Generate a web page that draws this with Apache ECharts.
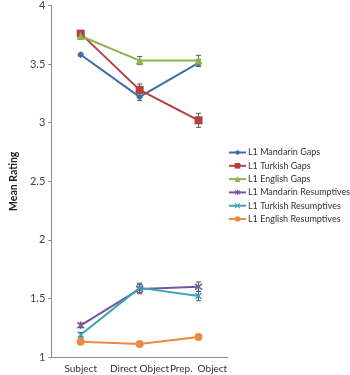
<!DOCTYPE html>
<html><head><meta charset="utf-8">
<script src="https://cdn.jsdelivr.net/npm/echarts@6/dist/echarts.min.js"></script>
<style>html,body{margin:0;padding:0;background:#fff}#c{width:350px;height:375px}</style>
</head><body><div id="c"></div>
<script>
var categories = ['Subject', 'Direct Object', 'Prep.  Object'];
var seriesNames = ['L1 Mandarin Gaps','L1 Turkish Gaps','L1 English Gaps','L1 Mandarin Resumptives','L1 Turkish Resumptives','L1 English Resumptives'];
var mandarinGaps = [3.58, 3.22, 3.51];
var turkishGaps = [3.76, 3.28, 3.02];
var englishGaps = [3.74, 3.53, 3.53];
var mandarinRes = [1.27, 1.58, 1.60];
var turkishRes = [1.19, 1.59, 1.52];
var englishRes = [1.13, 1.11, 1.17];
var mandarinGapsErr = [0.015, 0.03, 0.03];
var turkishGapsErr = [0.015, 0.05, 0.06];
var englishGapsErr = [0.015, 0.035, 0.045];
var mandarinResErr = [0.02, 0.04, 0.04];
var turkishResErr = [0.02, 0.04, 0.04];
var englishResErr = [0.01, 0.01, 0.01];
var yTicks = [1, 1.5, 2, 2.5, 3, 3.5, 4];

var values = [mandarinGaps, turkishGaps, englishGaps, mandarinRes, turkishRes, englishRes];
var errs = [mandarinGapsErr, turkishGapsErr, englishGapsErr, mandarinResErr, turkishResErr, englishResErr];
var colors = ['#3d6ea8', '#b3403d', '#8db34f', '#75559a', '#3aa4bf', '#ee8a3c'];
var xPath = 'path://M0,1.4 L1.4,0 L5,3.6 L8.6,0 L10,1.4 L6.4,5 L10,8.6 L8.6,10 L5,6.4 L1.4,10 L0,8.6 L3.6,5 Z';
var starPath = 'path://M0,1.4 L1.4,0 L5,3.6 L8.6,0 L10,1.4 L6.4,5 L10,8.6 L8.6,10 L5,6.4 L1.4,10 L0,8.6 L3.6,5 Z M4.3,-1 L5.7,-1 L5.7,11 L4.3,11 Z';
var symbols = ['diamond', 'rect', 'triangle', starPath, xPath, 'circle'];
var sizes = [7, 8, 8, 8, 7, 8];
var font = 'Lato';

var series = [];
values.forEach(function (v, i) {
  series.push({
    name: seriesNames[i], type: 'line', data: v,
    symbol: symbols[i], symbolSize: sizes[i], showAllSymbol: true,
    lineStyle: { color: colors[i], width: 2 },
    itemStyle: { color: colors[i] },
    z: 3
  });
  series.push({
    type: 'custom', name: seriesNames[i] + ' err', z: 2,
    data: v.map(function (val, j) { return [j, val - errs[i][j], val + errs[i][j]]; }),
    renderItem: function (params, api) {
      var lo = api.coord([api.value(0), api.value(1)]);
      var hi = api.coord([api.value(0), api.value(2)]);
      var w = 2.5;
      var st = { stroke: '#555', lineWidth: 1 };
      return { type: 'group', children: [
        { type: 'line', shape: { x1: lo[0], y1: lo[1], x2: hi[0], y2: hi[1] }, style: st },
        { type: 'line', shape: { x1: lo[0] - w, y1: lo[1], x2: lo[0] + w, y2: lo[1] }, style: st },
        { type: 'line', shape: { x1: hi[0] - w, y1: hi[1], x2: hi[0] + w, y2: hi[1] }, style: st }
      ] };
    }
  });
});

var chart = echarts.init(document.getElementById('c'));
chart.setOption({
  animation: false,
  textStyle: { fontFamily: font },
  grid: { left: 33, right: 122, top: 5, bottom: 18, containLabel: false },
  legend: {
    data: seriesNames, orient: 'vertical', left: 228, top: 148, padding: 0,
    itemWidth: 17, itemHeight: 7, itemGap: 4.3,
    textStyle: { fontSize: 9, color: '#333', fontFamily: font, padding: [0, 0, 0, -3] }
  },
  xAxis: {
    type: 'category', data: categories, boundaryGap: true,
    axisLine: { lineStyle: { color: '#8c8c8c' } },
    axisTick: { length: 4, lineStyle: { color: '#8c8c8c' } },
    axisLabel: { color: '#333', fontSize: 10, margin: 7, interval: 0, fontFamily: font }
  },
  yAxis: {
    type: 'value', min: 1, max: 4, interval: 0.5,
    name: 'Mean Rating', nameLocation: 'middle', nameGap: 23, nameRotate: 90,
    nameTextStyle: { fontWeight: 'bold', fontSize: 10.5, color: '#222', fontFamily: font },
    splitLine: { show: false },
    axisLine: { show: true, lineStyle: { color: '#8c8c8c' } },
    axisTick: { show: true, length: 3, lineStyle: { color: '#8c8c8c' } },
    axisLabel: { color: '#444', fontSize: 11, margin: 6, fontFamily: font,
      formatter: function (v) { return yTicks.indexOf(v) >= 0 ? String(v) : ''; } }
  },
  series: series
});
</script></body></html>
